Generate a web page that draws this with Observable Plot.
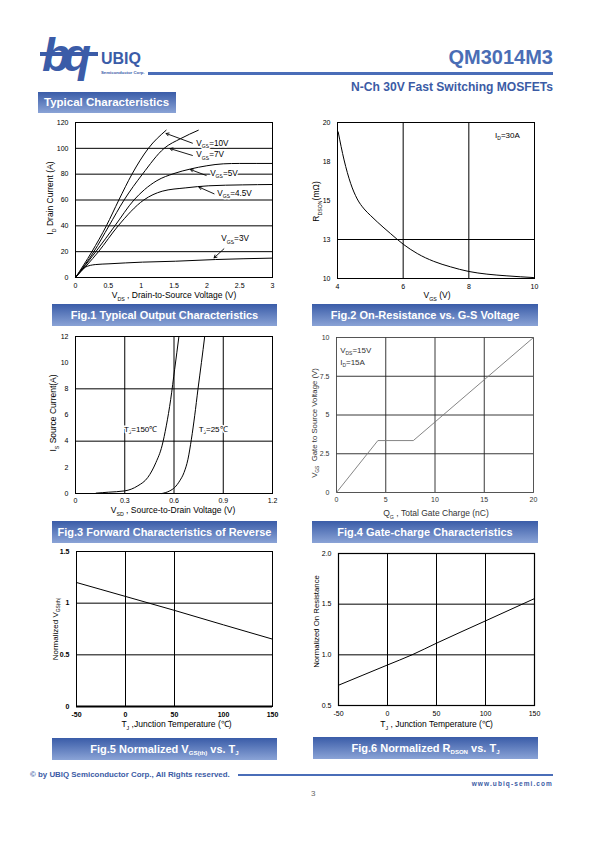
<!DOCTYPE html>
<html><head><meta charset="utf-8">
<script src="https://cdn.jsdelivr.net/npm/d3@7"></script>
<script src="https://cdn.jsdelivr.net/npm/@observablehq/plot@0.6"></script>
<style>
body{margin:0;background:#fff;}
#page{position:relative;width:595px;height:842px;overflow:hidden;font-family:"Liberation Sans",Arial,sans-serif;}
.abs{position:absolute;white-space:nowrap;}
.cap{position:absolute;height:22px;background:linear-gradient(#3a5ca8,#8aa3d6);color:#fff;font-weight:bold;font-size:11px;line-height:22px;text-align:center;font-family:"Liberation Sans Narrow","Liberation Sans",Arial,sans-serif;white-space:nowrap;}
.cap sub{font-size:0.55em;vertical-align:-0.25em;}
</style></head><body><div id="page">
<div class="abs" style="left:42px;top:28px;font:italic bold 46px 'Liberation Sans',Arial;color:#3b5ca8;letter-spacing:-7px;">bq</div>
<div class="abs" style="left:40px;top:52px;width:58px;height:4px;background:#3b5ca8;"></div>
<div class="abs" style="left:101px;top:50px;font:bold 16px 'Liberation Sans',Arial;color:#3b5ca8;">UBIQ</div>
<div class="abs" style="left:101px;top:70px;font:bold 4.3px 'Liberation Sans',Arial;color:#3b5ca8;">Semiconductor Corp.</div>
<div class="abs" style="left:148px;top:72px;width:405px;height:3px;background:#4a6db8;"></div>
<div class="abs" style="right:42px;top:46px;font:bold 20px 'Liberation Sans',Arial;color:#4a6db5;">QM3014M3</div>
<div class="abs" style="right:42px;top:80px;font:bold 12.1px 'Liberation Sans',Arial;color:#3b5ba5;">N-Ch 30V Fast Switching MOSFETs</div>
<div class="cap" style="left:38px;top:92px;width:138px;height:21px;line-height:21px;text-align:left;font-family:'Liberation Sans',Arial;font-size:11.5px;"><span style="margin-left:6px">Typical Characteristics</span></div>

<div class="cap" style="left:52px;top:304px;width:225px;">Fig.1 Typical Output Characteristics</div>
<div class="cap" style="left:312px;top:304px;width:226px;">Fig.2 On-Resistance vs. G-S Voltage</div>
<div class="cap" style="left:52px;top:521px;width:225px;">Fig.3 Forward Characteristics of Reverse</div>
<div class="cap" style="left:312px;top:521px;width:226px;">Fig.4 Gate-charge Characteristics</div>
<div class="cap" style="left:52px;top:738px;width:225px;">Fig.5 Normalized V<sub>GS(th)</sub> vs. T<sub>J</sub></div>
<div class="cap" style="left:313px;top:737px;width:225px;">Fig.6 Normalized R<sub>DSON</sub> vs. T<sub>J</sub></div>

<div class="abs" style="left:30px;top:770px;font:bold 7.9px 'Liberation Sans',Arial;color:#3b5ba5;">© by UBIQ Semiconductor Corp., All Rights reserved.</div>
<div class="abs" style="left:238px;top:774px;width:315px;height:2px;background:#4a6db8;"></div>
<div class="abs" style="right:42px;top:780px;font:bold 6.5px 'Liberation Sans',Arial;color:#3b5ba5;letter-spacing:1.1px;">www.ubiq-semi.com</div>
<div class="abs" style="left:311px;top:789px;font:8px 'Liberation Sans',Arial;color:#666;">3</div>
</div>
<script>
// ---------- data ----------
// Fig.1 output characteristics (VDS V, ID A)
const vgs10 = [[0,0],[0.25,20],[0.47,40],[0.66,60],[0.86,80],[1.11,100],[1.38,114]];
const vgs7 = [[0,0],[0.28,20],[0.51,40],[0.74,60],[1.02,80],[1.35,100],[1.6,107.5],[1.87,114]];
const vgs5 = [[0,0],[0.31,20],[0.6,40],[0.89,60],[1.05,68],[1.24,75],[1.5,80.5],[1.75,84],[2.0,86.5],[2.25,88],[2.5,88.3],[3.0,88.3]];
const vgs45 = [[0,0],[0.35,20],[0.65,40],[1.04,60],[1.32,66.8],[1.68,69.4],[2.03,71],[2.54,71.7],[3.0,72]];
const vgs3 = [[0,0],[0.15,8],[0.3,10],[0.51,10.6],[1.02,11.9],[1.52,12.6],[2.13,13.9],[3.0,15]];
const fig1Labels = [
  {x:1.81,y:104,t:"V_{GS}=10V", ax:1.78, ay:104, bx:1.38, by:111.5},
  {x:1.81,y:95,t:"V_{GS}=7V", ax:1.78, ay:94.5, bx:1.44, by:99.8},
  {x:2.02,y:80.8,t:"V_{GS}=5V", ax:1.99, ay:79, bx:1.75, by:83.6},
  {x:2.13,y:65.3,t:"V_{GS}=4.5V", ax:2.11, ay:64.8, bx:1.88, by:70},
  {x:2.19,y:30,t:"V_{GS}=3V", ax:2.26, ay:22.2, bx:2.11, by:15.2}
];
const fig1XTicks = [0,0.5,1,1.5,2,2.5,3];
const fig1YTicks = [0,20,40,60,80,100,120];
const fig1Grid = [20,40,60,80,100];

// Fig.2 RDSON vs VGS
const rdson = [[4.02,19.4],[4.2,17.6],[4.4,16.1],[4.6,15.1],[4.81,14.46],[5.0,14.05],[5.21,13.63],[5.62,12.87],[6.0,12.2],[6.43,11.6],[6.93,11.1],[7.44,10.75],[8.0,10.45],[8.55,10.28],[9.16,10.17],[9.97,10.06]];
const fig2XTicks = [4,6,8,10];
const fig2YTicks = [10,12.5,15,17.5,20];
const fig2YLabels = ["10","13","15","18","20"];

// Fig.3 body diode forward
const tj150 = [[0.126,0.03],[0.2,0.1],[0.3,0.2],[0.38,0.59],[0.44,1.22],[0.49,2.37],[0.527,3.64],[0.553,5.17],[0.58,7.2],[0.604,9.5],[0.63,12]];
const tj25 = [[0.527,0],[0.574,0.2],[0.604,0.46],[0.635,0.97],[0.661,1.6],[0.685,2.62],[0.706,4.15],[0.726,5.94],[0.746,7.97],[0.767,10.0],[0.787,12]];
const fig3XTicks = [0,0.3,0.6,0.9,1.2];
const fig3YTicks = [0,2,4,6,8,10,12];

// Fig.4 gate charge
const gateCharge = [[0,0],[4.2,3.35],[7.8,3.35],[20,10]];
const fig4XTicks = [0,5,10,15,20];
const fig4YTicks = [0,2.5,5,7.5,10];

// Fig.5 normalized VGS(th)
const vth = [[-50,1.2],[0,1.065],[50,0.93],[100,0.79],[150,0.652]];
const fig5XTicks = [-50,0,50,100,150];
const fig5YTicks = [0,0.5,1,1.5];

// Fig.6 normalized RDSON
const rnorm = [[-50,0.7],[0,0.9],[25,1.0],[50,1.115],[100,1.335],[150,1.555]];
const fig6XTicks = [-50,0,50,100,150];
const fig6YTicks = [0.5,1.0,1.5,2.0];

// ---------- helpers ----------
const page = document.getElementById("page");
const FONT = "'Liberation Sans', Arial, sans-serif";
const X = d => d[0], Y = d => d[1];

function subify(svg){
  svg.querySelectorAll("text").forEach(t=>{
    const s = t.textContent; if(!s.includes("_{")) return;
    const fs = parseFloat(getComputedStyle(t).fontSize) || 8;
    const parts = s.split(/(_\{[^}]*\})/).filter(Boolean);
    t.textContent = "";
    let shifted = false;
    for(const p of parts){
      const ts = document.createElementNS("http://www.w3.org/2000/svg","tspan");
      if(p.startsWith("_{")){
        ts.textContent = p.slice(2,-1);
        ts.setAttribute("font-size", (fs*0.62)+"px");
        if(!shifted) ts.setAttribute("dy", (fs*0.28)+"px");
        shifted = true;
      } else {
        ts.textContent = p;
        if(shifted){ ts.setAttribute("dy", (-fs*0.28)+"px"); shifted=false; }
      }
      t.appendChild(ts);
    }
  });
}

function chart({frame:[x0,y0,x1,y1], xDomain, yDomain, marks, ml=48, mr=14, mt=8, mb=34}){
  const svg = Plot.plot({
    width:(x1-x0)+ml+mr, height:(y1-y0)+mt+mb,
    marginLeft:ml, marginRight:mr, marginTop:mt, marginBottom:mb,
    x:{domain:xDomain}, y:{domain:yDomain},
    style:{fontFamily:FONT, fontSize:"7px", background:"transparent", color:"#000", overflow:"visible"},
    marks
  });
  svg.style.position = "absolute";
  svg.style.left = (x0-ml)+"px";
  svg.style.top = (y0-mt)+"px";
  page.appendChild(svg);
  subify(svg);
  return svg;
}
const fmt = d => String(d);
const xAxis = (ticks, o={}) => Plot.axisX(ticks, {tickSize:0, tickPadding:6, label:null, fontSize:7, tickFormat:fmt, ...o});
const yAxis = (ticks, o={}) => Plot.axisY(ticks, {tickSize:0, tickPadding:7, label:null, fontSize:7, tickFormat:fmt, ...o});
const xTitle = (t, dx, dy, o={}) => Plot.text([t], {text:d=>d, frameAnchor:"bottom", textAnchor:"middle", lineAnchor:"middle", dx, dy, fontSize:8.5, ...o});
const yTitle = (t, dx, dy, o={}) => Plot.text([t], {text:d=>d, frameAnchor:"left", textAnchor:"middle", lineAnchor:"middle", rotate:-90, dx, dy, fontSize:8.5, ...o});
const curve = (data, o={}) => Plot.line(data, {x:X, y:Y, stroke:"black", strokeWidth:1, curve:"monotone-x", ...o});

// Fig.1
chart({frame:[75,122,272,277], xDomain:[0,3], yDomain:[0,120], marks:[
  Plot.gridY(fig1Grid, {stroke:"black", strokeOpacity:1, strokeWidth:1}),
  Plot.frame({stroke:"black", strokeWidth:1}),
  xAxis(fig1XTicks), yAxis(fig1YTicks),
  curve(vgs10), curve(vgs7), curve(vgs5), curve(vgs45), curve(vgs3),
  Plot.arrow(fig1Labels, {x1:"ax", y1:"ay", x2:"bx", y2:"by", stroke:"black", strokeWidth:0.9, headLength:5}),
  Plot.text(fig1Labels, {x:"x", y:"y", text:"t", textAnchor:"start", fontSize:8.2, dx:2, stroke:"white", strokeWidth:3, fill:"black"}),
  xTitle("V_{DS} , Drain-to-Source Voltage (V)", 0, 18),
  yTitle("I_{D} Drain Current (A)", -25, -2)
]});

// Fig.2
chart({frame:[337,122,534,278], xDomain:[4,10], yDomain:[10,20], marks:[
  Plot.gridX([6,8], {stroke:"black", strokeOpacity:1, strokeWidth:1}),
  Plot.gridY([12.5], {stroke:"black", strokeOpacity:1, strokeWidth:1}),
  Plot.frame({stroke:"black", strokeWidth:1}),
  xAxis(fig2XTicks), yAxis(fig2YTicks, {tickFormat:(d,i)=>fig2YLabels[i]}),
  curve(rdson),
  Plot.text(["I_{D}=30A"], {text:d=>d, x:()=>8.8, y:()=>19.18, textAnchor:"start", fontSize:8}),
  xTitle("V_{GS} (V)", 1, 17),
  yTitle("R_{DSON}(mΩ)", -21, 1)
]});

// Fig.3
chart({frame:[75,336,272,493], xDomain:[0,1.2], yDomain:[0,12], marks:[
  Plot.gridX([0.3,0.6,0.9], {stroke:"black", strokeOpacity:1, strokeWidth:1}),
  Plot.gridY([4,8], {stroke:"black", strokeOpacity:1, strokeWidth:1}),
  Plot.frame({stroke:"black", strokeWidth:1}),
  xAxis(fig3XTicks, {tickPadding:5}), yAxis(fig3YTicks),
  curve(tj150), curve(tj25),
  Plot.text([{x:0.295,y:4.92,t:"T_{J}=150℃"},{x:0.75,y:4.92,t:"T_{J}=25℃"}], {x:"x", y:"y", text:"t", textAnchor:"start", fontSize:8, stroke:"white", strokeWidth:3, fill:"black"}),
  xTitle("V_{SD} , Source-to-Drain Voltage (V)", -1, 17),
  yTitle("I_{S} Source Current(A)", -22, -2)
]});

// Fig.4
chart({frame:[336,337,533,492], xDomain:[0,20], yDomain:[0,10], marks:[
  Plot.gridX([5,10,15], {stroke:"#222", strokeOpacity:1, strokeWidth:0.9}),
  Plot.gridY([2.5,5,7.5], {stroke:"#222", strokeOpacity:1, strokeWidth:0.9}),
  Plot.frame({stroke:"#444", strokeWidth:0.9}),
  xAxis(fig4XTicks, {tickPadding:5, fill:"#333"}), yAxis(fig4YTicks, {fill:"#333"}),
  Plot.line(gateCharge, {x:X, y:Y, stroke:"#777", strokeWidth:0.9}),
  Plot.text([{x:0.37,y:9.19,t:"V_{DS}=15V"},{x:0.37,y:8.4,t:"I_{D}=15A"}], {x:"x", y:"y", text:"t", textAnchor:"start", fontSize:8, fill:"#333"}),
  xTitle("Q_{G} , Total Gate Charge (nC)", 1, 21, {fill:"#333"}),
  yTitle("V_{GS}  Gate to Source Voltage (V)", -22, 8, {fill:"#333", fontSize:7.8})
]});

// Fig.5
chart({frame:[76,551,272,706], xDomain:[-50,150], yDomain:[0,1.5], marks:[
  Plot.gridX([0,50], {stroke:"black", strokeOpacity:1, strokeWidth:1}),
  Plot.gridY([0.5,1], {stroke:"black", strokeOpacity:1, strokeWidth:1}),
  Plot.frame({stroke:"black", strokeWidth:1}),
  Plot.ruleY([0], {stroke:"black", strokeWidth:2}),
  xAxis(fig5XTicks, {fontWeight:"bold"}), yAxis(fig5YTicks, {fontWeight:"bold"}),
  curve(vth),
  xTitle("T_{J} ,Junction Temperature (℃)", 2, 18),
  yTitle("Normalized V_{GS(th)}", -21, 0, {fontSize:8})
]});

// Fig.6
chart({frame:[338,553,534,705], xDomain:[-50,150], yDomain:[0.5,2.0], marks:[
  Plot.gridX([0,50,100], {stroke:"black", strokeOpacity:1, strokeWidth:1}),
  Plot.gridY([1.0,1.5], {stroke:"black", strokeOpacity:1, strokeWidth:1}),
  Plot.frame({stroke:"black", strokeWidth:1.2}),
  xAxis(fig6XTicks), yAxis(fig6YTicks, {tickFormat:d=>d.toFixed(1)}),
  curve(rnorm),
  xTitle("T_{J} , Junction Temperature (℃)", 0, 19),
  yTitle("Normalized On Resistance", -22, -8, {fontSize:7.8})
]});
</script>
</body></html>
